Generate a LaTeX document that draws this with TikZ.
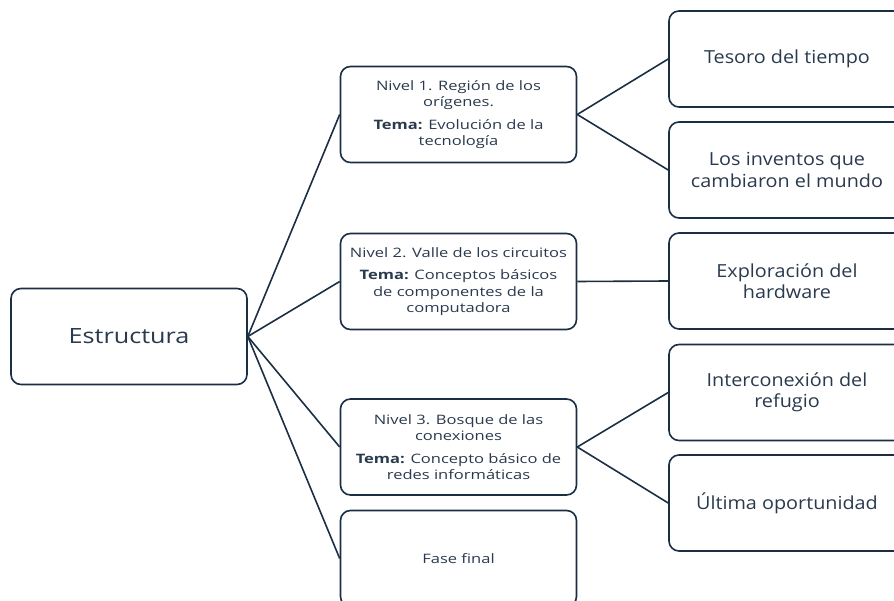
\documentclass[tikz,border=0pt]{standalone}
\usepackage{fontspec}
\setmainfont{Open Sans}
\newfontfamily\lvlfont[FakeStretch=1.27]{Open Sans}
\newfontfamily\bigfont[FakeStretch=1.1]{Open Sans}
\newfontfamily\estfont[FakeStretch=1.2]{Open Sans}
\definecolor{navy}{HTML}{1C2E44}
\definecolor{txt}{HTML}{2A3A4E}
\begin{document}
\begin{tikzpicture}[x=1pt,y=-1pt,
  box/.style={draw=navy,line width=1.6pt,rounded corners=10pt,fill=white,
    minimum width=236pt,minimum height=96pt,inner sep=0pt,align=center,text=txt},
  lvl/.style={box,font=\lvlfont\fontsize{13}{16.5}\selectfont},
  big/.style={box,font=\bigfont\fontsize{18}{21.5}\selectfont},
  conn/.style={draw=navy,line width=1.6pt}]
\useasboundingbox (0,0) rectangle (894,601);
\clip (0,0) rectangle (894,601);
\node[box,font=\estfont\fontsize{21}{24}\selectfont] (est) at (129,336.5) {Estructura};
\node[lvl] (n1) at (458.5,114.5) {Nivel 1. Región de los\\orígenes.\\[6pt]\textbf{Tema:} Evolución de la\\tecnología};
\node[lvl] (n2) at (458.5,281.5) {Nivel 2. Valle de los circuitos\\[6pt]\textbf{Tema:} Conceptos básicos\\de componentes de la\\computadora};
\node[lvl] (n3) at (458.5,447) {Nivel 3. Bosque de las\\conexiones\\[6pt]\textbf{Tema:} Concepto básico de\\redes informáticas};
\node[lvl] (ff) at (458.5,558.5) {Fase final};
\node[big] (t1) at (787,59) {Tesoro del tiempo};
\node[big] (t2) at (787,170) {Los inventos que\\cambiaron el mundo};
\node[big] (t3) at (787,281) {Exploración del\\hardware};
\node[big] (t4) at (787,392.5) {Interconexión del\\refugio};
\node[big] (t5) at (787,503) {Última oportunidad};
\foreach \n in {n1,n2,n3,ff} \draw[conn] (est.east) -- (\n.west);
\draw[conn] (n1.east) -- (t1.west);
\draw[conn] (n1.east) -- (t2.west);
\draw[conn] (n2.east) -- (t3.west);
\draw[conn] (n3.east) -- (t4.west);
\draw[conn] (n3.east) -- (t5.west);
\end{tikzpicture}
\end{document}
